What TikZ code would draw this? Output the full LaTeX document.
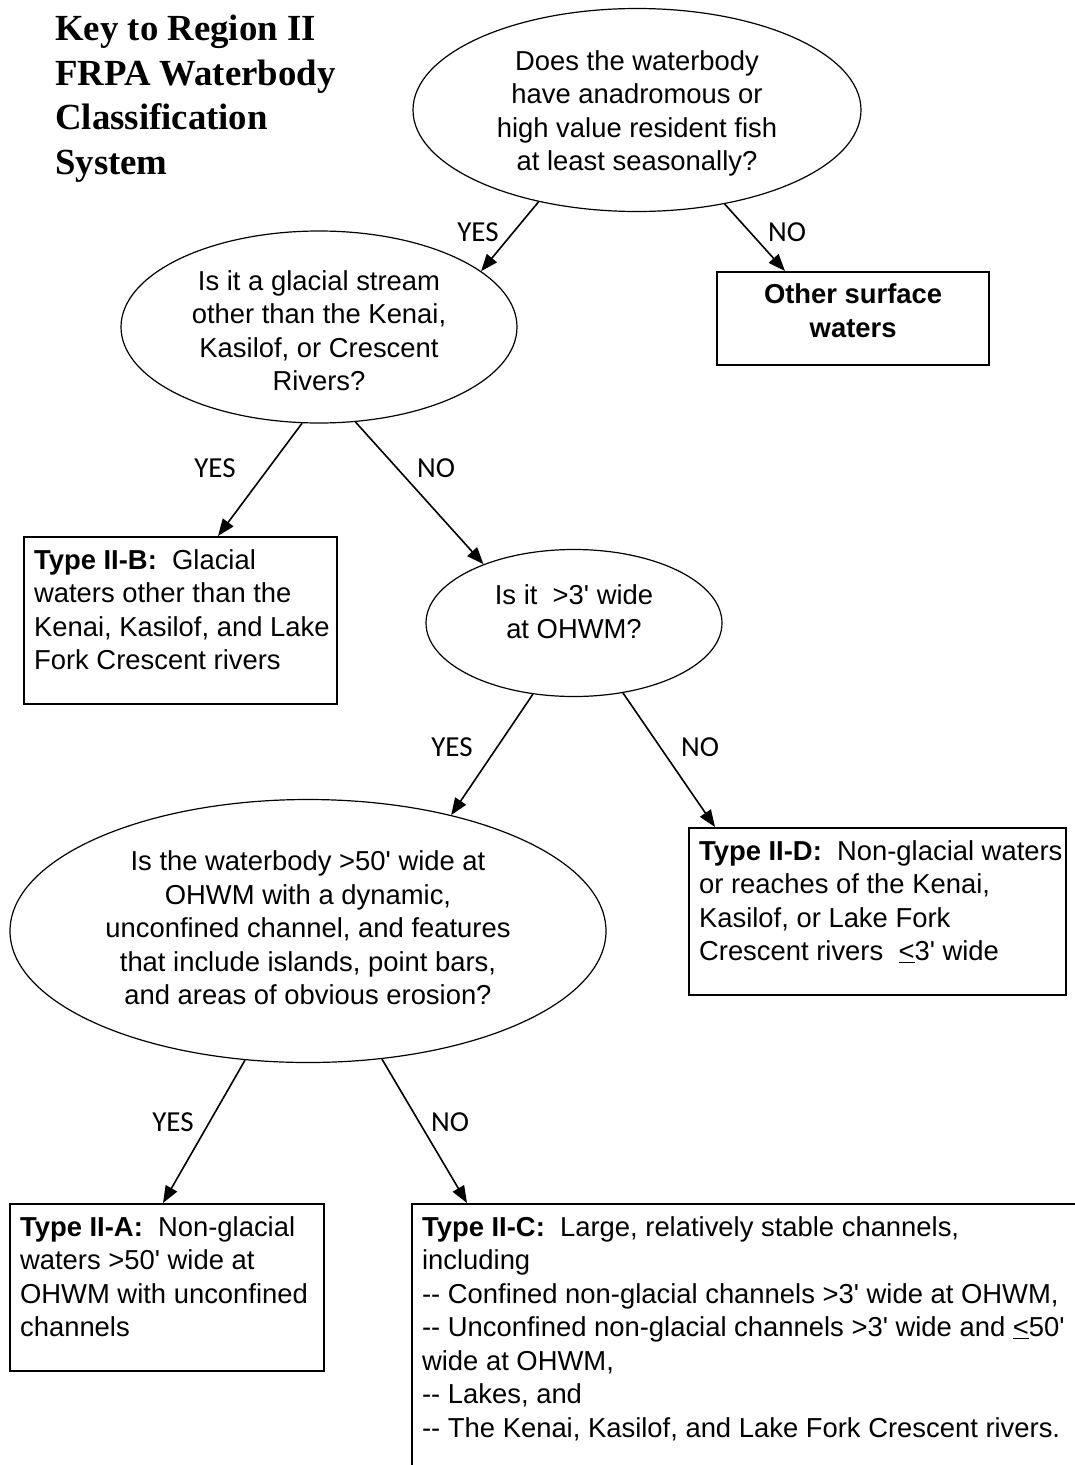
\documentclass[tikz,border=0pt]{standalone}
\usepackage{fontspec}
\newfontfamily\arial{Liberation Sans}
\newfontfamily\titlefont{Liberation Serif}
\newfontfamily\labelfont{Carlito}
\usetikzlibrary{shapes.geometric,arrows.meta,calc}
\newcommand\qtext[2]{\raisebox{#1}[\height][\depth]{\begin{tabular}{@{}c@{}}#2\end{tabular}}}
\newcommand\btext[3]{\parbox[t][#1][t]{#2}{\begin{tabular}[t]{@{}l@{}}#3\end{tabular}}}
\begin{document}
\begin{tikzpicture}[x=1pt,y=-1pt,
  txt/.style={font=\arial\fontsize{27.4}{33.5}\selectfont},
  question/.style={txt,draw,ellipse,line width=1.2pt,inner sep=0pt},
  answer/.style={txt,draw,line width=2.2pt,anchor=north west,inner xsep=10pt,inner ysep=8.5pt},
  arr/.style={line width=1.6pt,-{Triangle[length=17pt,width=13pt]}},
  lbl/.style={font=\labelfont\fontsize{29}{34}\selectfont,inner sep=0pt}]
\useasboundingbox (0,0) rectangle (1075,1465);
\clip (0,0) rectangle (1075,1465);
\fill[white] (0,0) rectangle (1075,1465);

\node[anchor=north west,inner sep=0pt,align=left,
  font=\titlefont\bfseries\fontsize{36.8}{44.5}\selectfont] (title) at (55,15)
  {Key to Region II\\FRPA Waterbody\\Classification\\System};

\node[question,minimum width=448pt,minimum height=203pt] (e1) at (637,110)
  {\qtext{-4pt}{Does the waterbody\\have anadromous or\\high value resident fish\\at least seasonally?}};
\node[question,minimum width=396pt,minimum height=192pt] (e2) at (319,327)
  {\qtext{-7pt}{Is it a glacial stream\\other than the Kenai,\\Kasilof, or Crescent\\Rivers?}};
\node[question,minimum width=296pt,minimum height=147pt] (e3) at (574,623)
  {\qtext{8pt}{Is it \ >3' wide\\at OHWM?}};
\node[question,minimum width=596pt,minimum height=263pt] (e4) at (308,931)
  {\qtext{0pt}{Is the waterbody >50' wide at\\OHWM with a dynamic,\\unconfined channel, and features\\that include islands, point bars,\\and areas of obvious erosion?}};

\node[answer,inner ysep=12pt] (other) at (716,271)
  {\parbox[t][69pt][t]{252pt}{\centering\bfseries Other surface\\waters}};
\node[answer] (iib) at (23,536)
  {\btext{150pt}{293pt}{\textbf{Type II-B:}\ \ Glacial\\waters other than the\\Kenai, Kasilof, and Lake\\Fork Crescent rivers}};
\node[answer] (iid) at (688,827)
  {\btext{150pt}{357pt}{\textbf{Type II-D:}\ \ Non-glacial waters\\or reaches of the Kenai,\\Kasilof, or Lake Fork\\Crescent rivers \ \underline{<}3' wide}};
\node[answer] (iia) at (9,1203)
  {\btext{150pt}{294pt}{\textbf{Type II-A:}\ \ Non-glacial\\waters >50' wide at\\OHWM with unconfined\\channels}};
\node[answer] (iic) at (411,1203)
  {\btext{280pt}{700pt}{\textbf{Type II-C:}\ \ Large, relatively stable channels,\\including\\-{}- Confined non-glacial channels >3' wide at OHWM,\\-{}- Unconfined non-glacial channels >3' wide and \underline{<}50'\\wide at OHWM,\\-{}- Lakes, and\\-{}- The Kenai, Kasilof, and Lake Fork Crescent rivers.}};

\draw[arr] (e1.223) -- (e2.19);
\draw[arr] (e1.-47) -- ($(other.north west)+(69,0)$);
\draw[arr] (e2.-100) -- ($(iib.north west)+(195,0)$);
\draw[arr] (e2.-69) -- (e3.147);
\draw[arr] (e3.240) -- (e4.39);
\draw[arr] (e3.-55) -- ($(iid.north west)+(27,0)$);
\draw[arr] (e4.244) -- ($(iia.north west)+(154,0)$);
\draw[arr] (e4.-60) -- ($(iic.north west)+(56,0)$);

\node[lbl] (y1) at (478,232) {YES};
\node[lbl] (n1) at (787,232) {NO};
\node[lbl] (y2) at (215,468) {YES};
\node[lbl] (n2) at (436,468) {NO};
\node[lbl] (y3) at (452,747) {YES};
\node[lbl] (n3) at (700,747) {NO};
\node[lbl] (y4) at (173,1122) {YES};
\node[lbl] (n4) at (450,1122) {NO};
\end{tikzpicture}
\end{document}
